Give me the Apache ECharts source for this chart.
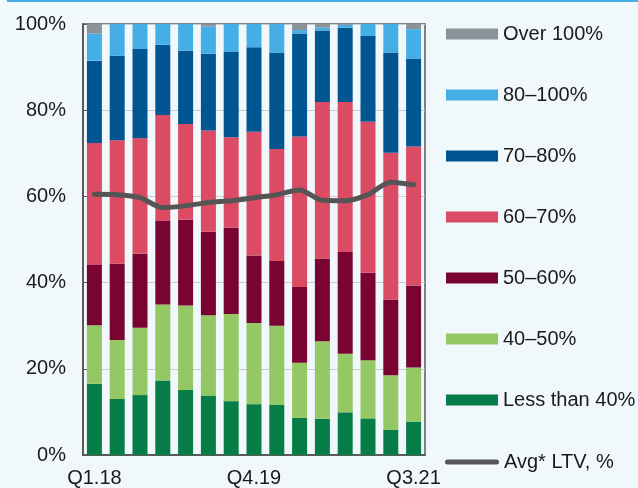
<!DOCTYPE html>
<html>
<head>
<meta charset="utf-8">
<script src="https://cdn.jsdelivr.net/npm/echarts@6/dist/echarts.min.js"></script>
<style>
  html, body { margin: 0; padding: 0; background: #f1f8fc; }
  #chart { width: 638px; height: 488px; }
</style>
</head>
<body>
<div id="chart"></div>
<script>
// categories (quarters)
const categories = ["Q1.18", "Q2.18", "Q3.18", "Q4.18", "Q1.19", "Q2.19", "Q3.19", "Q4.19",
  "Q1.20", "Q2.20", "Q3.20", "Q4.20", "Q1.21", "Q2.21", "Q3.21"];

// LTV buckets, % of total
const lessThan40 = [16.5, 13.0, 13.9, 17.3, 15.1, 13.8, 12.5, 11.8, 11.6, 8.6, 8.4, 9.9, 8.5, 5.8, 7.7];
const ltv40to50 = [13.6, 13.7, 15.6, 17.6, 19.6, 18.6, 20.2, 18.8, 18.4, 12.8, 18.0, 13.6, 13.5, 12.7, 12.6];
const ltv50to60 = [14.0, 17.7, 17.2, 19.4, 19.9, 19.4, 20.0, 15.7, 15.0, 17.6, 19.2, 23.6, 20.3, 17.6, 19.0];
const ltv60to70 = [28.3, 28.6, 26.8, 24.6, 22.2, 23.5, 21.0, 28.7, 26.0, 34.9, 36.3, 34.8, 35.0, 34.0, 32.3];
const ltv70to80 = [19.1, 19.6, 20.7, 16.3, 17.0, 17.8, 19.9, 19.6, 22.4, 23.9, 16.6, 17.2, 19.9, 23.3, 20.4];
const ltv80to100 = [6.3, 7.4, 5.8, 4.8, 6.2, 6.3, 6.4, 5.4, 6.6, 0.8, 0.7, 0.7, 2.8, 6.6, 6.8];
const over100 = [2.2, 0, 0, 0, 0, 0.6, 0, 0, 0, 1.4, 0.8, 0.2, 0, 0, 1.2];

// average LTV, %
const avgLtv = [60.5, 60.4, 59.7, 57.4, 57.8, 58.6, 59.0, 59.7, 60.4, 61.5, 59.1, 59.0, 60.4, 63.3, 62.7];

// y axis ticks
const yTicks = [0, 20, 40, 60, 80, 100];

const textColor = "#1a1a1a";
const fontFamily = "Liberation Sans, Arial, sans-serif";
const legendText = { fontSize: 20, color: textColor, fontFamily, lineHeight: 20 };

const chart = echarts.init(document.getElementById("chart"));

const barSeries = (name, data, color) => ({
  name,
  type: "bar",
  stack: "ltv",
  barWidth: 15,
  data,
  itemStyle: { color },
  emphasis: { disabled: true },
});

const option = {
  backgroundColor: "#f1f8fc",
  animation: false,
  textStyle: { fontFamily },
  grid: {
    left: 83,
    right: 213,
    top: 24,
    bottom: 31,
    show: true,
    borderColor: "#5a5a5a",
    borderWidth: 1.5,
  },
  legend: [
    {
      orient: "vertical",
      left: 441,
      top: 19,
      padding: 5,
      itemWidth: 52,
      itemHeight: 11,
      itemGap: 41,
      selectedMode: false,
      textStyle: legendText,
      data: ["Over 100%", "80–100%", "70–80%", "60–70%", "50–60%", "40–50%", "Less than 40%"],
      icon: "rect",
    },
    {
      // the line gets its own legend so its key can be thin
      left: 440,
      top: 447,
      padding: 5,
      itemWidth: 54,
      itemHeight: 5,
      itemGap: 0,
      selectedMode: false,
      textStyle: legendText,
      data: ["Avg* LTV, %"],
      icon: "path://M2.5,0 L51.5,0 A2.5,2.5 0 0 1 51.5,5 L2.5,5 A2.5,2.5 0 0 1 2.5,0 Z",
    },
  ],
  xAxis: {
    type: "category",
    data: categories,
    axisLine: { lineStyle: { color: "#5a5a5a", width: 2 } },
    axisTick: { inside: true, length: 4, lineStyle: { color: "#5a5a5a" } },
    axisLabel: { interval: 6, fontSize: 20, color: textColor, margin: 13 },
  },
  yAxis: {
    type: "value",
    min: yTicks[0],
    max: yTicks[yTicks.length - 1],
    interval: 20,
    axisLine: { show: true, lineStyle: { color: "#5a5a5a", width: 2 } },
    axisTick: { show: true, inside: true, length: 4, lineStyle: { color: "#5a5a5a" } },
    splitLine: { lineStyle: { color: "#c9cdd0", width: 1 } },
    axisLabel: { fontSize: 20, color: textColor, margin: 17, formatter: "{value}%" },
  },
  series: [
    barSeries("Less than 40%", lessThan40, "#067d46"),
    barSeries("40–50%", ltv40to50, "#93c864"),
    barSeries("50–60%", ltv50to60, "#7a0431"),
    barSeries("60–70%", ltv60to70, "#db4b64"),
    barSeries("70–80%", ltv70to80, "#015591"),
    barSeries("80–100%", ltv80to100, "#46aee6"),
    barSeries("Over 100%", over100, "#8b9299"),
    {
      name: "Avg* LTV, %",
      type: "line",
      data: avgLtv,
      smooth: 0.3,
      symbol: "none",
      lineStyle: { color: "#555555", width: 5, cap: "round" },
      itemStyle: { color: "#555555" },
      z: 5,
    },
  ],
  graphic: [
    {
      type: "rect",
      left: 7,
      top: 0,
      shape: { width: 631, height: 2 },
      style: { fill: "#46aee6" },
    },
  ],
};

chart.setOption(option);
</script>
</body>
</html>
